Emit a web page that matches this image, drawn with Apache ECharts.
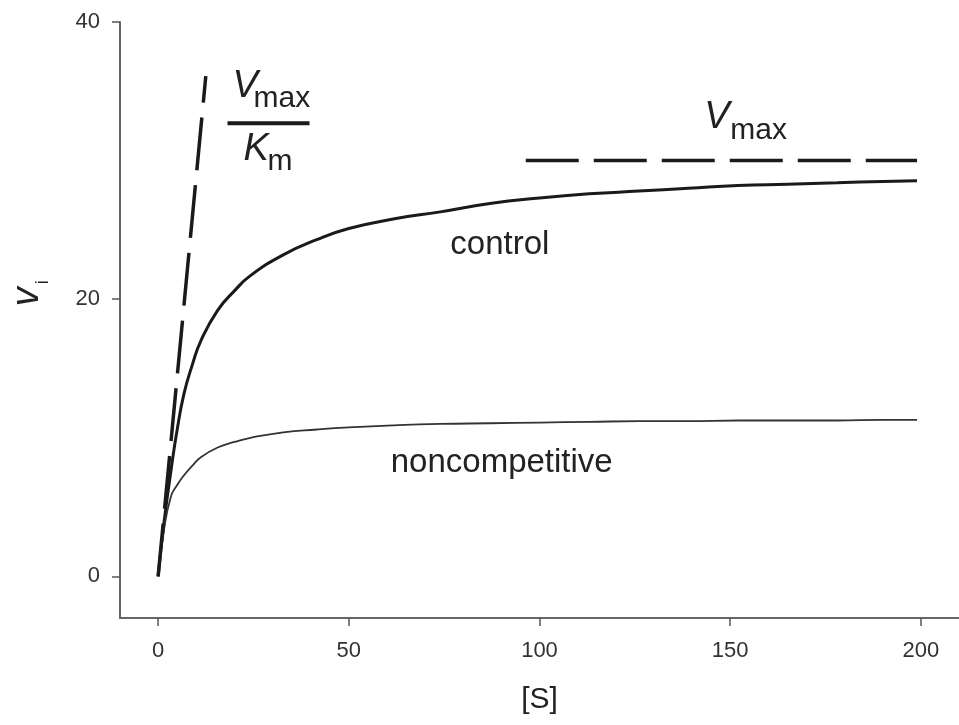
<!DOCTYPE html>
<html>
<head>
<meta charset="utf-8">
<title>Initial velocity vs [S]: control and noncompetitive</title>
<script src="https://cdn.jsdelivr.net/npm/echarts@6/dist/echarts.min.js"></script>
<style>
  html, body { margin: 0; padding: 0; background: #fff; }
  #chart { width: 959px; height: 725px; }
</style>
</head>
<body>
<div id="chart"></div>
<script>
// values
const substrate = [0, 1.5, 3.4, 5, 6.8, 9, 11.2, 15.6, 20, 24.2, 32.8, 41.6, 50, 62, 74, 87, 100, 113, 126, 139, 152, 165, 178, 190, 199];
const control = [0, 3.8, 7.7, 10.6, 13.2, 15.3, 17.0, 19.2, 20.6, 21.7, 23.2, 24.3, 25.1, 25.8, 26.3, 26.9, 27.3, 27.6, 27.8, 28.0, 28.2, 28.3, 28.4, 28.5, 28.55];
const noncompetitive = [0, 3.3, 5.8, 6.6, 7.3, 8.0, 8.6, 9.3, 9.7, 10.0, 10.4, 10.6, 10.75, 10.9, 11.0, 11.05, 11.1, 11.15, 11.2, 11.2, 11.25, 11.25, 11.25, 11.3, 11.3];

// dashed guides: initial slope Vmax/Km and the Vmax asymptote
const slopeS = [0, 12.5];
const slopeV = [0, 36.1];
const vmaxS = [96.4, 199];
const vmaxV = [30, 30];

const xTicks = [0, 50, 100, 150, 200];
const yTicks = [0, 20, 40];

const FONT = '"Liberation Sans", Arial, Helvetica, sans-serif';
const INK = '#1a1a1a';

const pairs = (xs, ys) => xs.map((x, i) => [x, ys[i]]);

const chart = echarts.init(document.getElementById('chart'));

const option = {
  animation: false,
  backgroundColor: '#fff',
  grid: { left: 120, right: -6, top: 22, bottom: 107, containLabel: false },
  xAxis: {
    type: 'value',
    min: -10,
    max: 210,
    name: '[S]',
    nameLocation: 'middle',
    nameGap: 67,
    nameTextStyle: { fontFamily: FONT, fontSize: 30, color: '#222' },
    axisLine: { onZero: false, lineStyle: { color: '#666', width: 2 } },
    axisTick: { customValues: xTicks, length: 8, lineStyle: { color: '#555', width: 1.5 } },
    axisLabel: { customValues: xTicks, fontFamily: FONT, fontSize: 22, color: '#333', margin: 22 },
    splitLine: { show: false }
  },
  yAxis: {
    type: 'value',
    min: -3,
    max: 40,
    axisLine: { onZero: false, lineStyle: { color: '#666', width: 2 } },
    axisTick: { customValues: yTicks, length: 8, lineStyle: { color: '#555', width: 1.5 } },
    axisLabel: { customValues: yTicks, fontFamily: FONT, fontSize: 22, color: '#333', margin: 20 },
    splitLine: { show: false }
  },
  series: [
    {
      name: 'control',
      type: 'line',
      smooth: 0.5,
      showSymbol: false,
      lineStyle: { color: INK, width: 3 },
      data: pairs(substrate, control)
    },
    {
      name: 'noncompetitive',
      type: 'line',
      smooth: 0.5,
      showSymbol: false,
      lineStyle: { color: '#333', width: 1.8 },
      data: pairs(substrate, noncompetitive)
    },
    {
      name: 'Vmax/Km',
      type: 'line',
      showSymbol: false,
      lineStyle: { color: INK, width: 3.5, type: [53, 15] },
      data: pairs(slopeS, slopeV)
    },
    {
      name: 'Vmax',
      type: 'line',
      showSymbol: false,
      lineStyle: { color: INK, width: 3.5, type: [53, 15] },
      data: pairs(vmaxS, vmaxV)
    }
  ]
};

chart.setOption(option);

// annotation texts, anchored in data space then nudged in pixels
const txt = (x, y, text, size, extra) => ({
  type: 'text', x, y, silent: true,
  style: Object.assign({ text, fontFamily: FONT, fontSize: size, fill: '#222', align: 'left', verticalAlign: 'middle' }, extra || {})
});

const drawNotes = () => {
  const px = (s, v) => chart.convertToPixel({ gridIndex: 0 }, [s, v]);
  const [vx, vy] = px(143.2, 32.25);      // right-hand Vmax label
  const [fx, fy] = px(19.5, 34.5);        // fraction label near the slope line
  const [cx, cy] = px(89.6, 23.9);        // "control"
  const [nx, ny] = px(90.1, 8.2);         // "noncompetitive"
  const [ax, ay] = px(-10, 19.5);         // y axis name

  chart.setOption({
    graphic: [
      txt(vx, vy - 12, 'V', 38, { fontStyle: 'italic' }),
      txt(vx + 26, vy + 1, 'max', 30),
      txt(fx, fy - 12, 'V', 38, { fontStyle: 'italic' }),
      txt(fx + 21, fy + 1, 'max', 30),
      { type: 'rect', silent: true, shape: { x: fx - 5, y: fy + 23, width: 82, height: 4 }, style: { fill: INK } },
      txt(fx + 11, fy + 51, 'K', 38, { fontStyle: 'italic' }),
      txt(fx + 35, fy + 64, 'm', 30),
      txt(cx, cy, 'control', 33, { align: 'center' }),
      txt(nx, ny, 'noncompetitive', 33, { align: 'center' }),
      {
        type: 'group', x: ax - 82, y: ay, rotation: Math.PI / 2, silent: true,
        children: [
          txt(0, -11, 'v', 38, { fontStyle: 'italic' }),
          txt(22, 5, 'i', 18)
        ]
      }
    ]
  });
};

drawNotes();

window.addEventListener('resize', () => {
  chart.resize();
  drawNotes();
});
</script>
</body>
</html>
